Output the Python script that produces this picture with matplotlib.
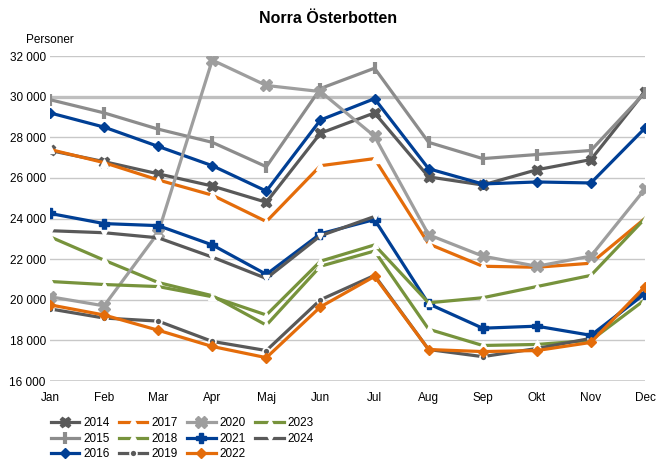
import matplotlib.pyplot as plt
from matplotlib.ticker import FuncFormatter

plt.rcParams['font.family'] = ['Liberation Sans', 'DejaVu Sans']

months = ["Jan", "Feb", "Mar", "Apr", "Maj", "Jun", "Jul", "Aug", "Sep", "Okt", "Nov", "Dec"]

# unemployed persons per month
y2014 = [27350, 26800, 26200, 25600, 24800, 28200, 29200, 26050, 25650, 26400, 26900, 30250]
y2015 = [29850, 29200, 28400, 27750, 26550, 30400, 31400, 27750, 26950, 27150, 27350, 30200]
y2016 = [29200, 28500, 27550, 26600, 25350, 28850, 29900, 26450, 25700, 25800, 25750, 28450]
y2017 = [27400, 26750, 25900, 25150, 23850, 26600, 26950, 22750, 21650, 21600, 21800, 24000]
y2018 = [23100, 21950, 20850, 20200, 18750, 21650, 22400, 18550, 17750, 17800, 18000, 20000]
y2019 = [19550, 19100, 18950, 17950, 17500, 20000, 21200, 17550, 17200, 17600, 18100, 20450]
y2020 = [20150, 19700, 23300, 31800, 30550, 30250, 28050, 23200, 22150, 21650, 22150, 25450]
y2021 = [24250, 23750, 23650, 22700, 21250, 23250, 23950, 19800, 18600, 18700, 18250, 20300]
y2022 = [19750, 19250, 18500, 17700, 17150, 19650, 21150, 17550, 17450, 17500, 17900, 20650]
y2023 = [20900, 20750, 20650, 20150, 19250, 21900, 22700, 19850, 20100, 20650, 21200, 24000]
y2024 = [23400, 23300, 23050, 22100, 21050, 23150, 24100]

dark = "#595959"
grey = "#8c8c8c"
light = "#9e9e9e"
blue = "#003f95"
orange = "#e46c0a"
green = "#77933c"

series = [
    ("2014", y2014, dict(color=dark, marker="X", ms=7.5, mfc=dark, mec=dark)),
    ("2015", y2015, dict(color=grey, marker="|", ms=8, mew=3, mec=grey)),
    ("2016", y2016, dict(color=blue, marker="D", ms=5, mfc=blue, mec=blue)),
    ("2017", y2017, dict(color=orange, marker="^", ms=6, mfc="white", mec="white")),
    ("2018", y2018, dict(color=green, marker="^", ms=6, mfc="white", mec="white")),
    ("2019", y2019, dict(color=dark, marker="o", ms=5, mfc=dark, mec="white", mew=1.2)),
    ("2020", y2020, dict(color=light, marker="X", ms=8.5, mfc=light, mec=light)),
    ("2021", y2021, dict(color=blue, marker="P", ms=7, mfc=blue, mec=blue)),
    ("2022", y2022, dict(color=orange, marker="D", ms=5, mfc=orange, mec=orange)),
    ("2023", y2023, dict(color=green, marker="^", ms=5, mfc="white", mec="white")),
    ("2024", y2024, dict(color=dark, marker="v", ms=5, mfc="white", mec="white")),
]

fig = plt.figure(figsize=(6.57, 4.61), dpi=100)
ax = fig.add_axes([0.0761, 0.1735, 0.9056, 0.705])

for yv in range(16000, 32001, 2000):
    if yv == 30000:
        ax.axhline(yv, color="#bfbfbf", lw=2.4, zorder=1)
    elif yv == 16000:
        ax.axhline(yv, color="#c8c8c8", lw=1.2, zorder=1)
    else:
        ax.axhline(yv, color="#c8c8c8", lw=1.0, zorder=1)

x = list(range(12))
for name, vals, style in series:
    ax.plot(x[:len(vals)], vals, lw=2.3, label=name, zorder=3, **style)

ax.set_xlim(0, 11)
ax.set_ylim(16000, 32000)
ax.set_xticks(x)
ax.set_xticklabels(months)
ax.set_yticks(range(16000, 32001, 2000))
ax.yaxis.set_major_formatter(FuncFormatter(lambda v, p: f"{int(v):,}".replace(",", " ")))
ax.tick_params(axis="both", length=0, labelsize=8.5, colors="black")
ax.tick_params(axis="y", pad=3)
ax.tick_params(axis="x", pad=8)
for s in ax.spines.values():
    s.set_visible(False)

fig.text(0.5, 0.96, "Norra Österbotten", ha="center", va="center",
         fontsize=11.5, fontweight="bold")
fig.text(0.04, 0.913, "Personer", ha="left", va="center", fontsize=8.5)

leg = fig.legend(loc="upper left", bbox_to_anchor=(0.07, 0.105), ncol=4,
                 frameon=False, fontsize=8.5, handlelength=2.4, handletextpad=0.35,
                 columnspacing=0.8, labelspacing=0.3, borderaxespad=0)

fig.savefig("out.png", dpi=100)
